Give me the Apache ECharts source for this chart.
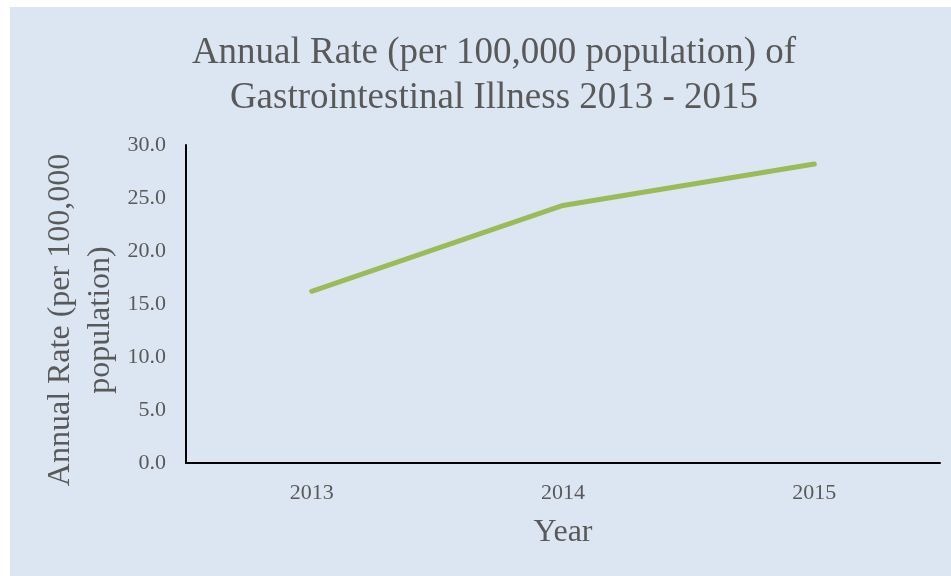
<!DOCTYPE html>
<html>
<head>
<meta charset="utf-8">
<script src="https://cdn.jsdelivr.net/npm/echarts@6/dist/echarts.min.js"></script>
<style>
    html, body {margin: 0; padding: 0; background: #ffffff;}
    #main {width: 951px; height: 576px;}
</style>
</head>
<body>
<div id="main"></div>
<script>
    // data
    var years = ['2013', '2014', '2015'];
    var rates = [16.2, 24.3, 28.2];

    var chart = echarts.init(document.getElementById('main'));
    var serif = "'Liberation Serif', 'Times New Roman', Tinos, serif";
    var option = {
        backgroundColor: '#ffffff',
        graphic: [{
            type: 'rect',
            z: -10,
            shape: {x: 10, y: 7, width: 941, height: 569},
            style: {fill: '#dce6f2'}
        }],
        title: {
            text: 'Annual Rate (per 100,000 population) of\nGastrointestinal Illness 2013 - 2015',
            left: 489,
            textAlign: 'center',
            top: 26,
            textStyle: {
                fontFamily: serif,
                fontSize: 37,
                fontWeight: 'normal',
                color: '#595959',
                lineHeight: 45
            }
        },
        grid: {
            left: 186,
            right: 11,
            top: 145,
            bottom: 113,
            containLabel: false
        },
        xAxis: {
            type: 'category',
            data: years,
            name: 'Year',
            nameLocation: 'middle',
            nameGap: 54,
            nameTextStyle: {fontFamily: serif, fontSize: 32, color: '#595959'},
            axisLine: {lineStyle: {color: '#000000', width: 2}},
            axisTick: {show: false},
            axisLabel: {fontFamily: serif, fontSize: 22, color: '#595959', margin: 19}
        },
        yAxis: {
            type: 'value',
            min: 0,
            max: 30,
            interval: 5,
            name: 'Annual Rate (per 100,000\npopulation)',
            nameLocation: 'middle',
            nameRotate: 90,
            nameGap: 65,
            nameMoveOverlap: false,
            nameTextStyle: {
                fontFamily: serif, fontSize: 32, color: '#595959', lineHeight: 40,
                padding: [0, 32, 0, 0]
            },
            splitLine: {show: false},
            axisLine: {show: true, lineStyle: {color: '#000000', width: 2}},
            axisTick: {show: false},
            axisLabel: {
                fontFamily: serif, fontSize: 22, color: '#595959', margin: 20,
                formatter: function (v) { return v.toFixed(1); }
            }
        },
        series: [{
            type: 'line',
            data: rates,
            symbol: 'none',
            lineStyle: {color: '#9bbb59', width: 5, cap: 'round', join: 'round'}
        }]
    };
    chart.setOption(option);
</script>
</body>
</html>
